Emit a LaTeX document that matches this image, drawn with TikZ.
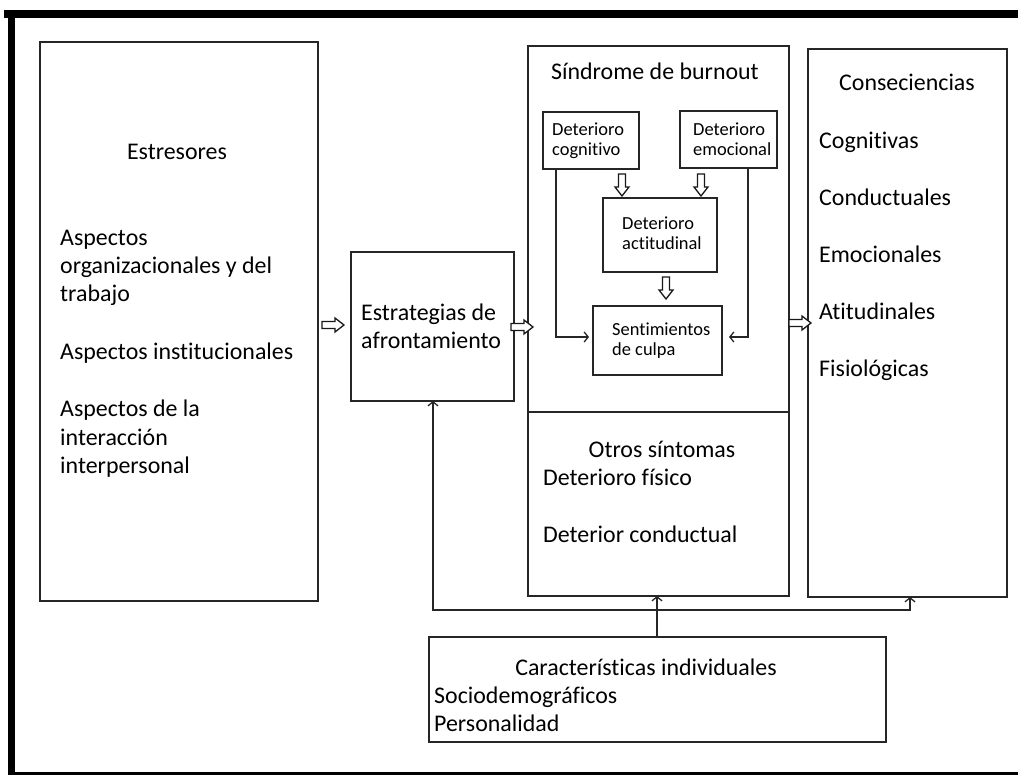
\documentclass[tikz,border=0pt]{standalone}
\usepackage{fontspec}
\setmainfont[Ligatures=NoCommon]{Carlito}
\usetikzlibrary{arrows.meta,calc}
\begin{document}
\begin{tikzpicture}[x=1bp,y=-1bp,
  box/.style={draw=black!85,line width=1.3bp,inner sep=0,outer sep=0,anchor=north west},
  big/.style={font=\fontsize{24}{28}\selectfont,inner sep=0,text=black},
  lt/.style={big,anchor=base west},
  ct/.style={big,anchor=base},
  sm/.style={font=\fontsize{18.5}{20}\selectfont,inner sep=0,anchor=base west,text=black},
  conn/.style={draw=black!85,line width=1.3bp,-{Straight Barb[length=4bp,width=10bp]}},
  harr/.pic={\draw[black!90,line width=1.3bp,fill=white,line join=miter]
      (0,-3.5) -- (13,-3.5) -- (13,-7) -- (22,0) -- (13,7) -- (13,3.5) -- (0,3.5) -- cycle;}]
\useasboundingbox (0,0) rectangle (1018,775);
% frame
\fill[black] (4,10) rectangle (1018,18);
\fill[black] (8,10) rectangle (15,775);
\fill[black] (8,772) rectangle (1018,775);
% boxes
\node[box,minimum width=278bp,minimum height=559bp] (estres) at (40,42) {};
\node[box,minimum width=163bp,minimum height=149bp] (estrat) at (351,252) {};
\node[box,minimum width=261bp,minimum height=366bp] (burn) at (528,46) {};
\node[box,minimum width=261bp,minimum height=184bp] (otros) at (528,412) {};
\node[box,minimum width=199bp,minimum height=548bp] (consec) at (808,49) {};
\node[box,minimum width=457bp,minimum height=105bp] (carac) at (429,637) {};
\node[box,minimum width=96bp,minimum height=57bp] (cog) at (543,112) {};
\node[box,minimum width=97bp,minimum height=57bp] (emo) at (680,111) {};
\node[box,minimum width=114bp,minimum height=74bp] (act) at (603,198) {};
\node[box,minimum width=129bp,minimum height=69bp] (sen) at (593,306) {};
% texts
\node[ct] (t1) at (177,159) {Estresores};
\node[lt] (t2) at (60,245) {Aspectos};
\node[lt] (t3) at (60,273) {organizacionales y del};
\node[lt] (t4) at (60,301) {trabajo};
\node[lt] (t5) at (60,359) {Aspectos institucionales};
\node[lt] (t6) at (60,416) {Aspectos de la};
\node[lt] (t7) at (60,445) {interacción};
\node[lt] (t8) at (60,473) {interpersonal};
\node[lt] (t9) at (361,320) {Estrategias de};
\node[lt] (t10) at (361,348) {afrontamiento};
\node[ct] (t11) at (655,80) {Síndrome de burnout};
\node[ct] (t12) at (662,457) {Otros síntomas};
\node[lt] (t13) at (543,485) {Deterioro físico};
\node[lt] (t14) at (543,542) {Deterior conductual};
\node[ct] (t15) at (907,91) {Conseciencias};
\node[lt] (t16) at (819,148) {Cognitivas};
\node[lt] (t17) at (819,205) {Conductuales};
\node[lt] (t18) at (819,262) {Emocionales};
\node[lt] (t19) at (819,319) {Atitudinales};
\node[lt] (t20) at (819,376) {Fisiológicas};
\node[ct] (t21) at (646,675) {Características individuales};
\node[lt] (t22) at (434,703) {Sociodemográficos};
\node[lt] (t23) at (434,731) {Personalidad};
\node[sm] (s1) at (552,135) {Deterioro};
\node[sm] (s2) at (552,155) {cognitivo};
\node[sm] (s3) at (693,135) {Deterioro};
\node[sm] (s4) at (693,155) {emocional};
\node[sm] (s5) at (622,229) {Deterioro};
\node[sm] (s6) at (622,249) {actitudinal};
\node[sm] (s7) at (612,335) {Sentimientos};
\node[sm] (s8) at (612,355) {de culpa};
% hollow arrows
\pic at ($(estres.east |- 0,325)+(4,0)$) {harr};
\pic at ($(estrat.east |- 0,327)+(-3,0)$) {harr};
\pic at ($(burn.east |- 0,323)+(0,0)$) {harr};
\pic[rotate=-90] at ($(cog.south -| 622,0)+(0,5)$) {harr};
\pic[rotate=-90] at ($(emo.south -| 701,0)+(0,6)$) {harr};
\pic[rotate=-90] at ($(act.south -| 666,0)+(0,5)$) {harr};
% line connectors
\coordinate (cl) at (556,337);
\coordinate (er) at (748,337);
\draw[conn,shorten >=4bp] (cog.south -| cl) -- (cl) -- (sen.west |- cl);
\draw[conn,shorten >=7bp] (emo.south -| er) -- (er) -- (sen.east |- er);
\coordinate (fb) at (657,610);
\coordinate (fl) at (433,610);
\coordinate (fr) at (910,610);
\draw[conn] (carac.north -| fb) -- (otros.south -| fb);
\draw[conn] (fb) -- (fl) -- (estrat.south -| fl);
\draw[conn] (fb) -- (fr) -- (consec.south -| fr);
\end{tikzpicture}
\end{document}
